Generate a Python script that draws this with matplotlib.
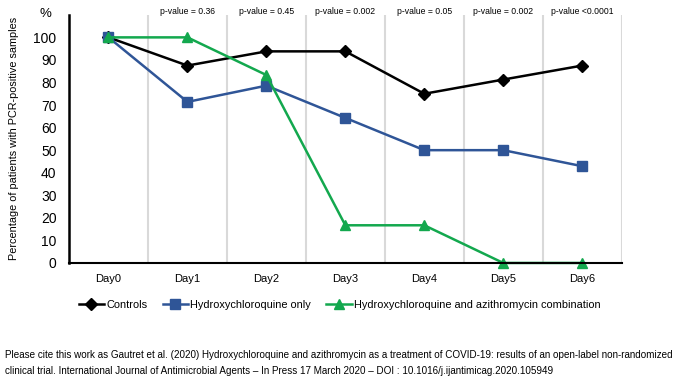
import matplotlib
matplotlib.use('Agg')
import matplotlib.pyplot as plt

days = ['Day0', 'Day1', 'Day2', 'Day3', 'Day4', 'Day5', 'Day6']
controls = [100, 87.5, 93.8, 93.8, 75.0, 81.3, 87.5]
hcq_only = [100, 71.4, 78.6, 64.3, 50.0, 50.0, 42.9]
hcq_azi = [100, 100, 83.3, 16.7, 16.7, 0, 0]
pvalues = ['', 'p-value = 0.36', 'p-value = 0.45', 'p-value = 0.002',
           'p-value = 0.05', 'p-value = 0.002', 'p-value <0.0001']

plt.rcParams['font.family'] = ['Liberation Sans', 'DejaVu Sans']

fig = plt.figure(figsize=(6.9, 3.8), dpi=100)
ax = fig.add_axes([0.1, 0.308, 0.801, 0.653])

x = list(range(len(days)))
ax.plot(x, controls, color='black', lw=1.8, marker='D', ms=6, label='Controls')
ax.plot(x, hcq_only, color='#2f5597', lw=1.8, marker='s', ms=7.5, label='Hydroxychloroquine only')
ax.plot(x, hcq_azi, color='#13a84e', lw=1.8, marker='^', ms=7, label='Hydroxychloroquine and azithromycin combination', clip_on=False)

for b in range(len(days)):
  ax.axvline(b + 0.5, color='#d9d9d9', lw=1.5, zorder=0)

ax.set_xlim(-0.5, len(days) - 0.5)
ax.set_ylim(0, 110)
ax.set_yticks(range(0, 101, 10))
ax.set_xticks(x)
ax.set_xticklabels(days, fontsize=8)
ax.tick_params(axis='y', labelsize=10, length=0, pad=9)
ax.tick_params(axis='x', length=0, pad=8)
for s in ['top', 'right']:
  ax.spines[s].set_visible(False)
ax.spines['left'].set_linewidth(1.8)
ax.spines['bottom'].set_linewidth(1.5)

for i, p in enumerate(pvalues):
  if p:
    ax.text(i, 111.5, p, ha='center', va='center', fontsize=6.2)
ax.text(-0.72, 110.5, '%', ha='right', va='center', fontsize=9.5)

ax.set_ylabel('Percentage of patients with PCR-positive samples', fontsize=7.8, labelpad=10)

fig.legend(loc='center left', bbox_to_anchor=(0.1, 0.197), ncol=3, frameon=False,
           fontsize=7.9, handlelength=2.3, handletextpad=0.2, columnspacing=1.4)

fig.text(0.007, 0.045, 'Please cite this work as Gautret et al. (2020) Hydroxychloroquine and azithromycin as a treatment of COVID-19: results of an open-label non-randomized\n'
         'clinical trial. International Journal of Antimicrobial Agents \u2013 In Press 17 March 2020 \u2013 DOI : 10.1016/j.ijantimicag.2020.105949',
         fontsize=7.15, va='center', ha='left', linespacing=1.65)

fig.savefig('out.png')
